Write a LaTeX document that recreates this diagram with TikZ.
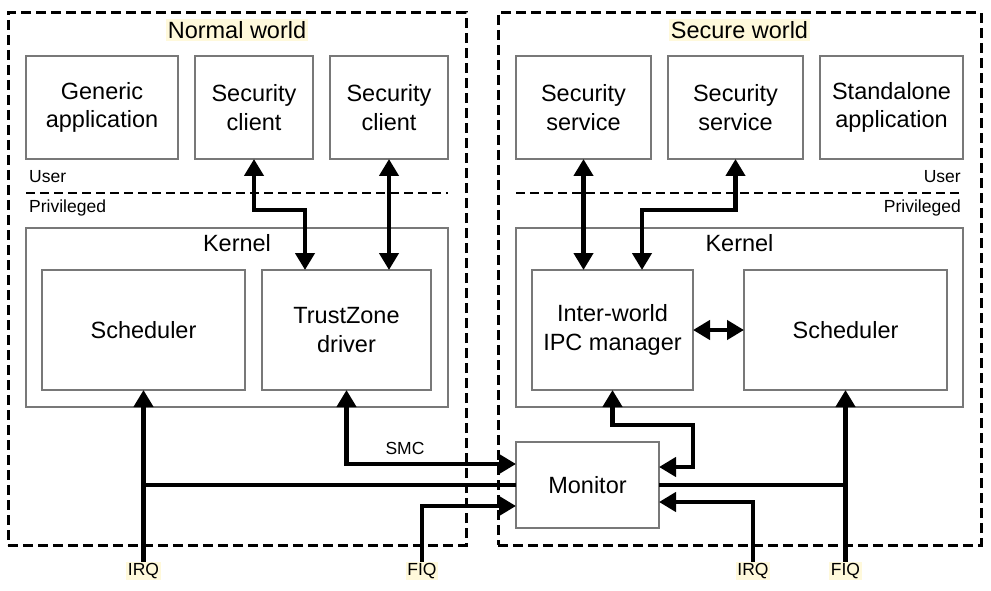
\documentclass[tikz,border=0pt]{standalone}
\usepackage{fontspec}
\setmainfont{Liberation Sans}
\usetikzlibrary{arrows.meta}
\definecolor{hl}{RGB}{255,249,219}
\definecolor{boxgray}{RGB}{120,120,120}
\newcommand{\bigtxt}{\fontsize{23.5}{28.5}\selectfont}
\newcommand{\smalltxt}{\fontsize{17.5}{20}\selectfont}
\begin{document}
\begin{tikzpicture}[x=1pt,y=-1pt,
  box/.style={draw=boxgray, line width=1.2pt, inner sep=0pt, outer sep=0pt, align=center, font=\bigtxt, fill=white},
  world/.style={draw=black, line width=3pt, dash pattern=on 10pt off 5pt, inner sep=0pt, outer sep=0pt},
  sepline/.style={draw=black, line width=2.6pt, dash pattern=on 9pt off 5pt},
  lab/.style={fill=hl, inner sep=1.5pt, font=\smalltxt},
  wlab/.style={fill=hl, inner sep=2pt, font=\bigtxt},
  txt/.style={inner sep=1pt, font=\smalltxt},
  ln/.style={line width=4.5pt},
  arr/.style={line width=4.5pt, -{Triangle[length=17pt,width=19pt]}},
  dbl/.style={line width=4.5pt, {Triangle[length=17pt,width=19pt]}-{Triangle[length=17pt,width=19pt]}}
]
\useasboundingbox (0,0) rectangle (991,591);
\fill[white] (0,0) rectangle (991,591);

% worlds
\node[world, minimum width=458pt, minimum height=532pt] (nw) at (237,279) {};
\node[world, minimum width=483pt, minimum height=532pt] (sw) at (739.5,279) {};
\node[wlab] (nwl) at (237,30) {Normal world};
\node[wlab] (swl) at (739.5,30) {Secure world};

% normal world user
\node[box, minimum width=152pt, minimum height=103pt] (ga) at (102,107.5) {Generic\\application};
\node[box, minimum width=118pt, minimum height=103pt] (sc1) at (254,107.5) {Security\\client};
\node[box, minimum width=118pt, minimum height=103pt] (sc2) at (389,107.5) {Security\\client};
\node[txt, anchor=west] (u1) at (28,177) {User};
\node[txt, anchor=west] (p1) at (28,208) {Privileged};
\draw[sepline] (26,193) -- (448,193);

% normal kernel
\node[box, minimum width=422pt, minimum height=179pt] (kn1) at (237,317.5) {};
\node[font=\bigtxt, inner sep=0pt] (kt1) at (237,243) {Kernel};
\node[box, minimum width=203pt, minimum height=120pt] (sch1) at (143.5,330) {Scheduler};
\node[box, minimum width=169pt, minimum height=120pt] (tz) at (346.5,330) {TrustZone\\driver};

% secure world user
\node[box, minimum width=135pt, minimum height=103pt] (ss1) at (583.5,107.5) {Security\\service};
\node[box, minimum width=135pt, minimum height=103pt] (ss2) at (735.5,107.5) {Security\\service};
\node[box, minimum width=143pt, minimum height=103pt] (sa) at (891.5,107.5) {Standalone\\application};
\node[txt, anchor=east] (u2) at (962,177) {User};
\node[txt, anchor=east] (p2) at (962,208) {Privileged};
\draw[sepline] (516,193) -- (963,193);

% secure kernel
\node[box, minimum width=447pt, minimum height=179pt] (kn2) at (739.5,317.5) {};
\node[font=\bigtxt, inner sep=0pt] (kt2) at (739.5,243) {Kernel};
\node[box, minimum width=161pt, minimum height=120pt] (ipc) at (612.5,330) {Inter-world\\IPC manager};
\node[box, minimum width=203pt, minimum height=120pt] (sch2) at (845.5,330) {Scheduler};

% monitor
\node[box, minimum width=143pt, minimum height=86pt] (mon) at (587.5,485) {Monitor};

% bottom labels
\node[lab] (irqL) at (143.5,571) {IRQ};
\node[lab] (fiqL) at (422,571) {FIQ};
\node[lab] (irqR) at (753,571) {IRQ};
\node[lab] (fiqR) at (845.5,571) {FIQ};
\node[txt] (smc) at (405,448) {SMC};

% connectors normal world
\draw[dbl] (sc1.south) -- ++(0,51) -| ([xshift=-41.5pt]tz.north);
\draw[dbl] (sc2.south) -- (sc2.south |- tz.north);
\draw[dbl] (tz.south) |- ([yshift=21pt]mon.west);
\draw[arr] (irqL.north) -- (sch1.south);
\draw[ln] (irqL.north |- mon.west) -- (mon.west);
\draw[arr] (fiqL.north) |- ([yshift=-21pt]mon.west);

% connectors secure world
\draw[dbl] (ss1.south) -- (ss1.south |- ipc.north);
\draw[dbl] (ss2.south) -- ++(0,51) -| ([xshift=29.5pt]ipc.north);
\draw[dbl] (ipc.east) -- (sch2.west);
\draw[dbl] (ipc.south) -- ++(0,35) -- ++(80.5,0) |- ([yshift=18pt]mon.east);
\draw[arr] (fiqR.north) -- (sch2.south);
\draw[ln] (fiqR.north |- mon.east) -- (mon.east);
\draw[arr] (irqR.north) |- ([yshift=-17pt]mon.east);
\end{tikzpicture}
\end{document}
